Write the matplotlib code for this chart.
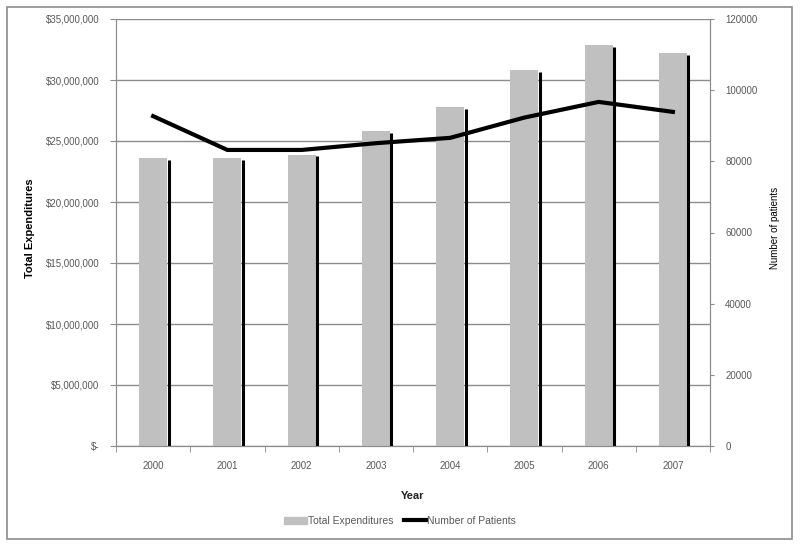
import numpy as np
import matplotlib.pyplot as plt
from matplotlib.patches import Rectangle, Patch
from matplotlib.lines import Line2D
from matplotlib.ticker import FuncFormatter

# data
years = ['2000', '2001', '2002', '2003', '2004', '2005', '2006', '2007']
expenditures = [23.6e6, 23.6e6, 23.85e6, 25.8e6, 27.8e6, 30.8e6, 32.9e6, 32.2e6]
patients = [92700, 83200, 83200, 85100, 86600, 92300, 96700, 93900]
left_ticks = [0, 5e6, 10e6, 15e6, 20e6, 25e6, 30e6, 35e6]
right_ticks = [0, 20000, 40000, 60000, 80000, 100000, 120000]

plt.rcParams['font.family'] = ['Liberation Sans', 'DejaVu Sans']
grey_txt = '#595959'
grid_col = '#8c8c8c'

fig = plt.figure(figsize=(8, 5.48), dpi=100)
# outer chart frame like an Excel chart area
fig.patches.append(Rectangle((7/800, 1-539/548), 785/800, 532/548, transform=fig.transFigure,
                             fill=False, edgecolor='#8c8c8c', lw=1.2))

ax1 = fig.add_axes([116/800, 1-446/548, 594/800, 427/548])
x = np.arange(len(years))
bw = 0.38

ax1.bar(x, expenditures, width=bw, color='#c0c0c0', zorder=2)
# dark shadow edge on the right of each bar
ax1.vlines(x + bw/2 + 0.02, 0, np.array(expenditures) * 0.995, color='black', lw=2.2, zorder=3)

ax1.set_ylim(0, 35e6)
ax1.set_xlim(-0.5, len(years) - 0.5)
ax1.set_yticks(left_ticks)
ax1.yaxis.set_major_formatter(FuncFormatter(lambda v, p: '$-' if v == 0 else f'${v:,.0f}'))
ax1.grid(axis='y', color=grid_col, lw=1, zorder=0)
ax1.set_axisbelow(True)

ax1.set_xticks(x)
ax1.set_xticklabels(years)
ax1.set_xticks(np.arange(len(years) + 1) - 0.5, minor=True)
ax1.tick_params(axis='x', which='major', length=0, pad=11, labelsize=7, colors=grey_txt)
ax1.tick_params(axis='x', which='minor', length=4, color=grid_col, direction='out')
ax1.tick_params(axis='y', length=4, color=grid_col, labelsize=7, labelcolor=grey_txt, pad=8)

for s in ['left', 'bottom', 'right']:
    ax1.spines[s].set_color(grid_col)
ax1.spines['top'].set_visible(False)

ax1.set_ylabel('Total Expenditures', fontsize=8, fontweight='bold')
ax1.yaxis.set_label_coords(-0.136, 0.51)
ax1.set_xlabel('Year', fontsize=8, fontweight='bold', labelpad=14, color='#222222')

ax2 = ax1.twinx()
ax2.plot(x, patients, color='black', lw=3, zorder=4)
ax2.set_ylim(0, 120000)
ax2.set_yticks(right_ticks)
ax2.tick_params(axis='y', length=3, color=grid_col, labelsize=7, labelcolor=grey_txt, pad=8)
for s in ['left', 'bottom', 'right']:
    ax2.spines[s].set_color(grid_col)
ax2.spines['top'].set_visible(False)
ax2.set_ylabel('Number of patients', fontsize=7, rotation=90)
ax2.yaxis.set_label_coords(1.101, 0.51)

handles = [Patch(color='#c0c0c0'), Line2D([0], [0], color='black', lw=3)]
fig.legend(handles, ['Total Expenditures', 'Number of Patients'], loc='center',
           bbox_to_anchor=(400/800, 1-521/548), ncol=2, frameon=False, fontsize=7.5,
           handlelength=2.2, handletextpad=0.1, columnspacing=1.0, labelcolor=grey_txt)

fig.savefig('out.png', dpi=100)
